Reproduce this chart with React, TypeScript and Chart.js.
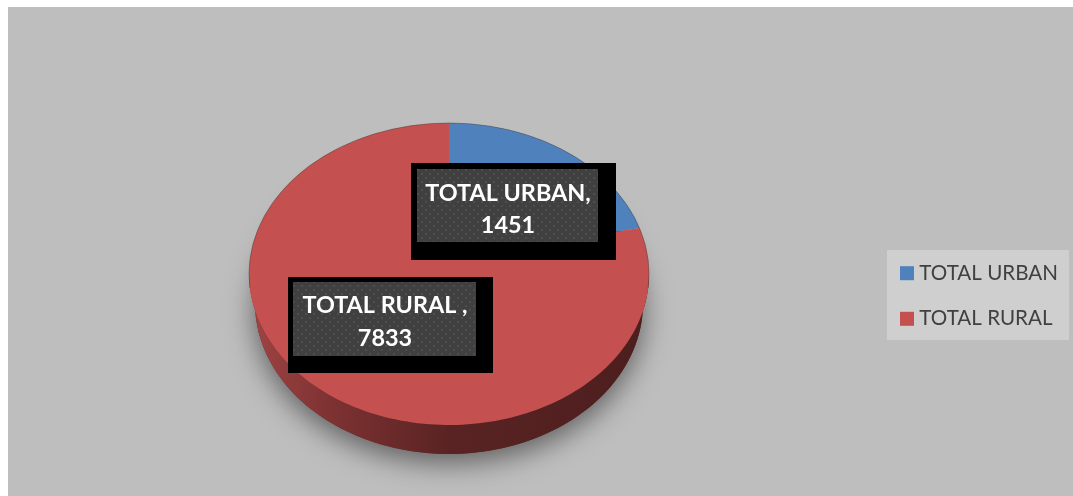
import React, { useEffect, useRef } from "react";
import { Chart, registerables } from "chart.js";

Chart.register(...registerables);

const categories = ["TOTAL URBAN", "TOTAL RURAL"];
const seriesValues = [1451, 7833];
const sliceColors = ["#4f81bd", "#c4514f"];

const LABEL_FONT = "Lato";
const labelBoxes = [
  { outer: [411, 163, 616, 260], inner: [417, 169, 598, 242], tx: 508, y1: 193, y2: 225, title: "TOTAL URBAN," },
  { outer: [288, 277, 493, 373], inner: [293, 282, 476, 356], tx: 385, y1: 305, y2: 338, title: "TOTAL RURAL ," },
];

const TILT = 0.755;
const DX = -2;
const DY = -22;
const APEX_DY = -16;
const DEPTH = 29;
const BOTTOM_SCALE = 0.97;
const RIM_T = -0.302;

function rimAngle(theta: number) {
  const turn = Math.PI * 2;
  const t = ((theta % turn) + turn) % turn;
  const c = (Math.cos(t) + RIM_T) / (1 + RIM_T * Math.cos(t));
  const a = Math.acos(Math.max(-1, Math.min(1, c)));
  return t <= Math.PI ? a : turn - a;
}

const pie3d = {
  id: "pie3d",
  beforeDraw(chart: any) {
    const { ctx, width, height } = chart;
    ctx.save();
    ctx.fillStyle = "#ffffff";
    ctx.fillRect(0, 0, width, height);
    ctx.fillStyle = "#bebebe";
    ctx.fillRect(8, 7, width - 8, height - 7);
    ctx.fillStyle = "#cfcfcf";
    ctx.fillRect(887, 250, 182, 90);
    ctx.restore();
  },
  afterLayout(chart: any) {
    chart.legend.left = 880;
  },
  beforeDatasetsDraw(chart: any) {
    const { ctx } = chart;
    const arcs = chart.getDatasetMeta(0).data;
    const first = arcs[0];
    const R = first.outerRadius;
    const cx = first.x + DX;
    const cy = first.y + DY;
    const ry = R * TILT;
    const bx = R * BOTTOM_SCALE;
    const by = cy + DEPTH;

    ctx.save();
    ctx.save();
    ctx.shadowColor = "rgba(0,0,0,0.5)";
    ctx.shadowBlur = 28;
    ctx.shadowOffsetY = 9;
    ctx.fillStyle = "#5a2222";
    ctx.beginPath();
    ctx.ellipse(cx, by, bx, ry, 0, 0, Math.PI * 2);
    ctx.fill();
    ctx.restore();

    arcs.forEach((arc: any) => {
      const a0 = rimAngle(arc.startAngle + Math.PI / 2);
      let a1 = rimAngle(arc.endAngle + Math.PI / 2);
      if (a1 <= a0) a1 = Math.PI * 2;
      const s = Math.max(a0, Math.PI / 2);
      const e = Math.min(a1, (Math.PI * 3) / 2);
      if (e <= s) return;
      const grad = ctx.createLinearGradient(cx - R, 0, cx + R, 0);
      grad.addColorStop(0, "#a04444");
      grad.addColorStop(0.2, "#7e3232");
      grad.addColorStop(0.5, "#5a2323");
      grad.addColorStop(1, "#4c1e1e");
      ctx.fillStyle = grad;
      ctx.beginPath();
      for (let i = 0; i <= 90; i++) {
        const p = s + ((e - s) * i) / 90;
        ctx.lineTo(cx + bx * Math.sin(p), by - ry * Math.cos(p));
      }
      for (let i = 90; i >= 0; i--) {
        const p = s + ((e - s) * i) / 90;
        ctx.lineTo(cx + R * Math.sin(p), cy - ry * Math.cos(p));
      }
      ctx.closePath();
      ctx.fill();
    });

    arcs.forEach((arc: any) => {
      const a0 = rimAngle(arc.startAngle + Math.PI / 2);
      let a1 = rimAngle(arc.endAngle + Math.PI / 2);
      if (a1 <= a0) a1 = Math.PI * 2;
      ctx.fillStyle = arc.options.backgroundColor;
      ctx.beginPath();
      ctx.moveTo(cx, cy + APEX_DY);
      for (let i = 0; i <= 180; i++) {
        const p = a0 + ((a1 - a0) * i) / 180;
        ctx.lineTo(cx + R * Math.sin(p), cy - ry * Math.cos(p));
      }
      ctx.closePath();
      ctx.fill();
    });
    ctx.strokeStyle = "rgba(70,60,60,0.45)";
    ctx.lineWidth = 1;
    ctx.beginPath();
    ctx.ellipse(cx, cy, R, ry, 0, Math.PI * 0.97, Math.PI * 2.03);
    ctx.stroke();
    ctx.restore();
    return false;
  },
  afterDraw(chart: any) {
    const { ctx } = chart;
    const tile = document.createElement("canvas");
    tile.width = 8;
    tile.height = 8;
    const t = tile.getContext("2d")!;
    t.fillStyle = "#404040";
    t.fillRect(0, 0, 8, 8);
    t.fillStyle = "#4e4e4e";
    t.fillRect(1, 1, 2, 2);
    t.fillRect(5, 5, 2, 2);
    const pattern = ctx.createPattern(tile, "repeat");
    ctx.save();
    labelBoxes.forEach((b, i) => {
      const [x0, y0, x1, y1] = b.outer;
      const [u0, v0, u1, v1] = b.inner;
      ctx.fillStyle = "#000000";
      ctx.fillRect(x0, y0, x1 - x0, y1 - y0);
      ctx.fillStyle = pattern;
      ctx.fillRect(u0, v0, u1 - u0, v1 - v0);
      ctx.fillStyle = "#ffffff";
      ctx.font = `bold 23.4px ${LABEL_FONT}`;
      ctx.textAlign = "center";
      ctx.textBaseline = "middle";
      ctx.fillText(b.title, b.tx, b.y1);
      ctx.fillText(String(chart.data.datasets[0].data[i]), b.tx, b.y2);
    });
    ctx.restore();
  },
};

export default function App() {
  const ref = useRef<HTMLCanvasElement>(null);
  useEffect(() => {
    const chart = new Chart(ref.current!, {
      type: "pie",
      data: {
        labels: categories,
        datasets: [{ data: seriesValues, backgroundColor: sliceColors, borderWidth: 0 }],
      },
      options: {
        responsive: false,
        animation: false,
        layout: { padding: { left: 17, right: 0, top: 96, bottom: 0 } },
        plugins: {
          tooltip: { enabled: false },
          legend: {
            position: "right",
            labels: {
              usePointStyle: true,
              pointStyle: "rect",
              boxWidth: 4,
              boxHeight: 14,
              padding: 25,
              color: "#404040",
              font: { family: LABEL_FONT, size: 20.6 },
            },
          },
        },
      },
      plugins: [pie3d],
    } as any);
    return () => chart.destroy();
  }, []);
  return (
    <div style={{ position: "fixed", left: 0, top: 0, width: 1073, height: 496, overflow: "hidden" }}>
      <canvas ref={ref} width={1073} height={496} style={{ display: "block" }} />
    </div>
  );
}
